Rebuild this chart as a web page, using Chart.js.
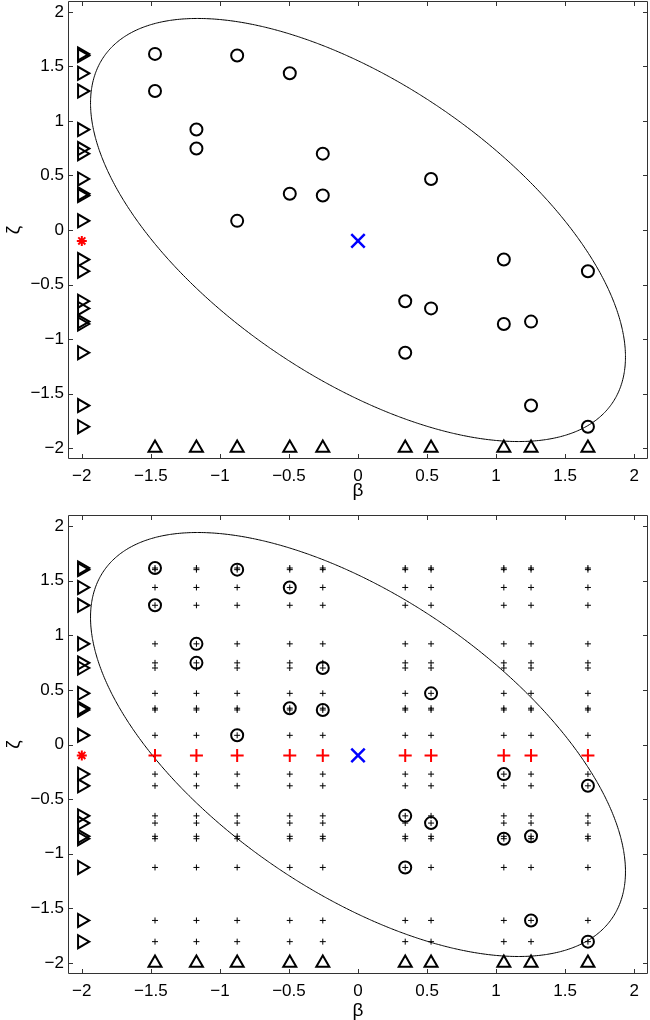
<!DOCTYPE html>
<html>
<head>
<meta charset="utf-8">
<title>beta / zeta</title>
<script src="https://cdn.jsdelivr.net/npm/chart.js@4.4.1/dist/chart.umd.min.js"></script>
<style>
  html, body { margin: 0; padding: 0; background: #fff; }
  #wrap { position: relative; width: 650px; height: 1020px; }
  canvas { position: absolute; left: 0; }
  #top-chart { top: 0; }
  #bottom-chart { top: 510px; }
</style>
</head>
<body>
<div id="wrap">
  <canvas id="top-chart" width="650" height="510"></canvas>
  <canvas id="bottom-chart" width="650" height="510"></canvas>
</div>
<script>
// --- values ---
const betaCols = [-1.47, -1.17, -0.875, -0.494, -0.255, 0.342, 0.529, 1.056, 1.253, 1.665];
const zetaRows = [1.615, 1.600, 1.437, 1.274, 0.921, 0.747, 0.700, 0.468, 0.332, 0.316,
                  0.084, -0.271, -0.378, -0.653, -0.719, -0.840, -0.862, -1.125, -1.610, -1.804];

// sample points (circles)
const sampleBeta = [-1.47, -1.47, -1.17, -1.17, -0.875, -0.875, -0.494, -0.494, -0.255, -0.255,
                    0.342, 0.342, 0.529, 0.529, 1.056, 1.056, 1.253, 1.253, 1.665, 1.665];
const sampleZeta = [1.615, 1.274, 0.921, 0.747, 1.600, 0.084, 1.437, 0.332, 0.700, 0.316,
                    -0.653, -1.125, 0.468, -0.719, -0.271, -0.862, -0.840, -1.610, -0.378, -1.804];

const edgeBeta = -2;       // right-pointing triangles sit here
const edgeZeta = -2;       // up-pointing triangles sit here
const estBeta = [0];       // blue x
const estZeta = [-0.1];
const starBeta = [-2];     // red asterisk
const starZeta = [-0.1];
const lineZeta = -0.1;     // row of red plus marks (bottom panel)

// ellipse: centre, half extents, phase between the two
const ellBeta0 = 0, ellZeta0 = 0;
const ellHalfBeta = 1.937, ellHalfZeta = 1.94, ellPhase = 2.214;

const tickVals = [-2, -1.5, -1, -0.5, 0, 0.5, 1, 1.5, 2];
const tickLabels = ['\u22122', '\u22121.5', '\u22121', '\u22120.5', '0', '0.5', '1', '1.5', '2'];

const FONT = '"Liberation Sans", Arial, Helvetica, sans-serif';

function ellipsePoints() {
    const pts = [];
    const n = 180;
    for (let k = 0; k <= n; k++) {
        // start at the top of the curve so the seam is not on a steep part
        const t = -ellPhase + (k / n) * 2 * Math.PI;
        pts.push({ x: ellBeta0 + ellHalfBeta * Math.cos(t), y: ellZeta0 + ellHalfZeta * Math.cos(t + ellPhase) });
    }
    return pts;
}

// box round the plot plus inward ticks on all four sides
const framePlugin = {
    id: 'frame',
    afterDatasetsDraw(chart) {
        const { ctx, chartArea: a, scales: { x, y } } = chart;
        ctx.save();
        ctx.strokeStyle = '#333';
        ctx.lineWidth = 1;
        ctx.beginPath();
        ctx.rect(a.left + 0.5, a.top + 0.5, a.right - a.left - 1, a.bottom - a.top - 1);
        tickVals.forEach(v => {
            const px = Math.round(x.getPixelForValue(v)) + 0.5;
            ctx.moveTo(px, a.bottom); ctx.lineTo(px, a.bottom - 5);
            ctx.moveTo(px, a.top); ctx.lineTo(px, a.top + 5);
            const py = Math.round(y.getPixelForValue(v)) + 0.5;
            ctx.moveTo(a.left, py); ctx.lineTo(a.left + 5, py);
            ctx.moveTo(a.right, py); ctx.lineTo(a.right - 5, py);
        });
        ctx.stroke();
        ctx.restore();
    }
};

function buildDatasets(withGrid) {
    const open = 'rgba(0,0,0,0)';
    const sets = [];

    // markers first in the list end up on top
    sets.push({
        data: estBeta.map((b, i) => ({ x: b, y: estZeta[i] })),
        pointStyle: 'crossRot', pointRadius: 9.5, borderColor: '#0000ff', borderWidth: 2.5
    });
    sets.push({
        data: starBeta.map((b, i) => ({ x: b, y: starZeta[i] })),
        pointStyle: 'star', pointRadius: 5, borderColor: '#ff0000', borderWidth: 2
    });
    if (withGrid) {
        sets.push({
            data: betaCols.map(b => ({ x: b, y: lineZeta })),
            pointStyle: 'cross', pointRadius: 6.5, borderColor: '#ff0000', borderWidth: 2
        });
    }
    sets.push({
        data: sampleBeta.map((b, i) => ({ x: b, y: sampleZeta[i] })),
        pointStyle: 'circle', pointRadius: 6, borderColor: '#000', backgroundColor: open, borderWidth: 2
    });
    sets.push({
        data: zetaRows.map(z => ({ x: edgeBeta, y: z })),
        pointStyle: 'triangle', rotation: 90, pointRadius: 7.5, borderColor: '#000', backgroundColor: open, borderWidth: 2
    });
    sets.push({
        data: betaCols.map(b => ({ x: b, y: edgeZeta })),
        pointStyle: 'triangle', rotation: 0, pointRadius: 7.5, borderColor: '#000', backgroundColor: open, borderWidth: 2
    });
    if (withGrid) {
        const grid = [];
        betaCols.forEach(b => zetaRows.forEach(z => grid.push({ x: b, y: z })));
        sets.push({
            data: grid,
            pointStyle: 'cross', pointRadius: 3, borderColor: '#000', borderWidth: 1
        });
    }
    // small tension keeps Chart.js off its fast path, which flattens near-vertical runs
    sets.push({
        data: ellipsePoints(),
        showLine: true, pointRadius: 0, borderColor: '#000', borderWidth: 1, fill: false, tension: 0.1
    });
    return sets;
}

function axis(isX, title, titlePad, size) {
    return {
        type: 'linear',
        min: -2.1,
        max: 2.1,
        afterBuildTicks: s => { s.ticks = tickVals.map(v => ({ value: v })); },
        afterFit: s => {
            // fixed box size, and no extra room for overhanging end labels
            if (isX) { s.height = size; s.paddingLeft = 0; s.paddingRight = 0; }
            else { s.width = size; s.paddingTop = 0; s.paddingBottom = 0; }
        },
        grid: { display: false, drawTicks: false },
        border: { display: false },
        ticks: {
            autoSkip: false,
            maxRotation: 0,
            padding: isX ? 7 : 4,
            color: '#000',
            font: { family: FONT, size: 17 },
            callback: (v, i) => tickLabels[i]
        },
        title: {
            display: true,
            text: title,
            color: '#000',
            font: { family: FONT, size: 19, lineHeight: 1 },
            padding: titlePad
        }
    };
}

function makeChart(canvasId, withGrid, padTop, xHeight, betaPad) {
    const ctx = document.getElementById(canvasId).getContext('2d');
    return new Chart(ctx, {
        type: 'scatter',
        data: { datasets: buildDatasets(withGrid) },
        options: {
            responsive: false,
            animation: false,
            events: [],
            layout: { autoPadding: false, padding: { top: padTop, right: 2, left: 0, bottom: 0 } },
            plugins: { legend: { display: false }, tooltip: { enabled: false } },
            scales: {
                x: axis(true, 'β', { top: 0, bottom: betaPad }, xHeight),
                y: axis(false, 'ζ', { top: 4, bottom: 0 }, 68)
            }
        },
        plugins: [framePlugin]
    });
}

makeChart('top-chart', false, 1, 51, 10);
makeChart('bottom-chart', true, 5, 46, 0);
</script>
</body>
</html>
